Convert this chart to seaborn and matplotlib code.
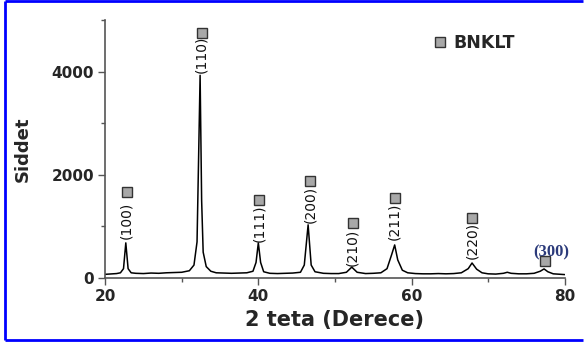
import matplotlib
matplotlib.use("Agg")
import matplotlib.pyplot as plt
from matplotlib.lines import Line2D
import seaborn as sns
import pandas as pd

# ---- data ----
two_theta = [20.0, 20.5, 21.0, 21.5, 22.0, 22.4, 22.7, 23.0, 23.4, 24.0, 25.0, 26.0, 27.0, 28.0,
             29.0, 30.0, 31.0, 31.6, 32.0, 32.2, 32.4, 32.6, 32.8, 33.2, 33.8, 34.5, 35.5, 36.5,
             37.5, 38.5, 39.3, 39.7, 40.0, 40.3, 40.7, 41.5, 42.5, 43.5, 44.5, 45.5, 46.0, 46.5,
             46.9, 47.4, 48.5, 49.5, 50.5, 51.5, 52.2, 52.9, 54.0, 55.0, 56.0, 56.8, 57.4, 57.8,
             58.2, 58.8, 59.5, 60.5, 61.5, 62.5, 63.5, 64.5, 65.5, 66.5, 67.4, 67.9, 68.5, 69.2,
             70.0, 71.0, 72.0, 72.5, 73.0, 74.0, 75.0, 76.0, 76.8, 77.3, 77.8, 78.5, 79.0, 79.5, 80.0]
intensity = [70, 75, 80, 85, 100, 180, 680, 180, 100, 90, 85, 95, 90, 100,
             105, 110, 140, 250, 700, 2300, 3930, 1500, 500, 220, 130, 100, 95, 90,
             95, 100, 130, 300, 680, 300, 120, 90, 85, 90, 95, 110, 250, 1030,
             250, 120, 90, 85, 85, 110, 210, 110, 85, 90, 100, 180, 450, 640,
             350, 150, 100, 85, 80, 80, 85, 80, 85, 100, 180, 290, 170, 100,
             80, 75, 90, 110, 90, 80, 80, 90, 130, 175, 120, 80, 75, 70, 65]

hkl_labels = ["(100)", "(110)", "(111)", "(200)", "(210)", "(211)", "(220)"]
hkl_x = [22.8, 32.6, 40.1, 46.8, 52.3, 57.8, 67.9]
hkl_text_y = [1126, 4330, 1058, 1427, 592, 1097, 728]
hkl_mark_y = [1670, 4760, 1515, 1880, 1070, 1550, 1165]

label_300 = "(300)"
x_300_text, y_300_text = 78.3, 490
x_300_mark, y_300_mark = 77.4, 330

legend_label = "BNKLT"

xlabel = "2 teta (Derece)"
ylabel = "Siddet"
xticks_major = [20, 40, 60, 80]
xticks_minor = [30, 50, 70]
yticks_major = [0, 2000, 4000]
yticks_minor = [1000, 3000, 5000]

# ---- plot ----
sns.set_style("white")
plt.rcParams["font.family"] = ["DejaVu Sans"]

fig = plt.figure(figsize=(5.84, 3.47), dpi=100)
ax = fig.add_axes([0.18, 0.199, 0.787, 0.743])

df = pd.DataFrame({"x": two_theta, "y": intensity})
sns.lineplot(data=df, x="x", y="y", ax=ax, color="black", linewidth=1.1)

sq_face = "#a8a8a8"
sq_edge = "#333333"
for lab, x, ty, my in zip(hkl_labels, hkl_x, hkl_text_y, hkl_mark_y):
    ax.text(x, ty, lab, rotation=90, ha="center", va="center", fontsize=10, color="#111111")
    ax.plot([x], [my], marker="s", ms=7, mfc=sq_face, mec=sq_edge, mew=1, ls="none")

ax.text(x_300_text, y_300_text, label_300, ha="center", va="center", fontsize=12,
        fontweight="bold", color="#2b3a7a", family="Liberation Serif")
ax.plot([x_300_mark], [y_300_mark], marker="s", ms=7, mfc=sq_face, mec=sq_edge, mew=1, ls="none")

# legend
ax.plot([], [], marker="s", ms=7, mfc=sq_face, mec=sq_edge, mew=1, ls="none", label=legend_label)
ax.legend(loc="center left", bbox_to_anchor=(0.705, 0.91), frameon=False,
          handletextpad=0.2, borderaxespad=0.0, borderpad=0.0, handlelength=1.2,
          prop={"weight": "bold", "size": 12.5})

ax.set_xlim(20, 80)
ax.set_ylim(0, 5000)
ax.set_xticks(xticks_major)
ax.set_xticks(xticks_minor, minor=True)
ax.set_yticks(yticks_major)
ax.set_yticks(yticks_minor, minor=True)
ax.tick_params(axis="both", which="major", direction="out", length=5, width=1, color="#555555",
               labelsize=11, pad=3, bottom=True, left=True)
ax.tick_params(axis="both", which="minor", direction="out", length=3, width=1, color="#555555",
               bottom=True, left=True)
for t in ax.get_xticklabels() + ax.get_yticklabels():
    t.set_fontweight("bold")

ax.set_xlabel(xlabel, fontsize=15, fontweight="bold", labelpad=4)
ax.set_ylabel(ylabel, fontsize=13, fontweight="bold", labelpad=14)

for s in ["top", "right"]:
    ax.spines[s].set_visible(False)
for s in ["left", "bottom"]:
    ax.spines[s].set_color("#555555")
    ax.spines[s].set_linewidth(1.2)

# blue frame around figure (left, top, bottom)
border = dict(color="#0000ff", linewidth=2.0, transform=fig.transFigure, solid_capstyle="butt")
fig.add_artist(Line2D([0.0086, 0.0086], [0.020, 0.996], **border))
fig.add_artist(Line2D([0.0086, 0.999], [0.996, 0.996], **border))
fig.add_artist(Line2D([0.0086, 0.999], [0.020, 0.020], **border))

fig.savefig("out.png", dpi=100)
